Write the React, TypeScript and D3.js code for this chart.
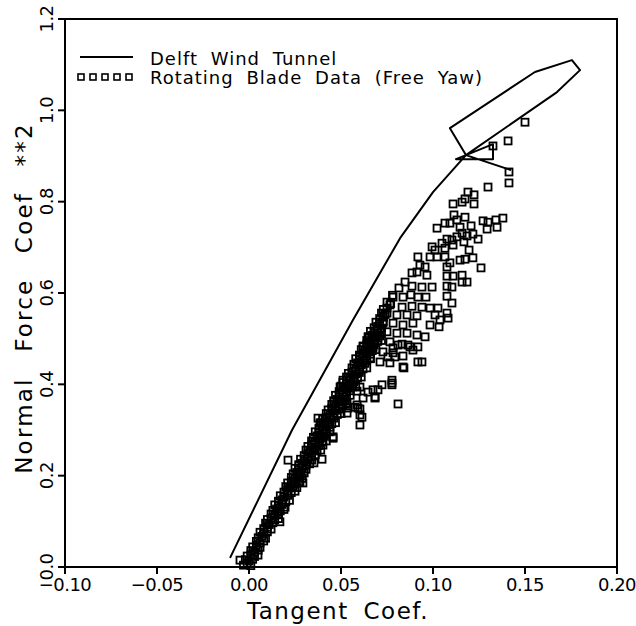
import React from "react";
import * as d3 from "d3";

const xTicks = [-0.1, -0.05, 0.0, 0.05, 0.1, 0.15, 0.2];
const xTickLabels = ["\u22120.10", "\u22120.05", "0.00", "0.05", "0.10", "0.15", "0.20"];
const yTicks = [0.0, 0.2, 0.4, 0.6, 0.8, 1.0, 1.2];
const yTickLabels = ["0.0", "0.2", "0.4", "0.6", "0.8", "1.0", "1.2"];

const xTitle = "Tangent Coef.";
const yTitle = "Normal Force Coef **2";
const legendLine = "Delft Wind Tunnel";
const legendPts = "Rotating Blade Data (Free Yaw)";

// Delft wind tunnel curve [tangent, normal^2]
const delft: [number, number][] = [
  [-0.0103, 0.020], [0.0234, 0.300], [0.0565, 0.541], [0.0821, 0.720], [0.1000, 0.821],
  [0.1179, 0.902], [0.1092, 0.961], [0.1554, 1.084], [0.1755, 1.110], [0.1799, 1.088],
  [0.1674, 1.040], [0.1179, 0.902], [0.1125, 0.893], [0.1326, 0.893], [0.1326, 0.926],
  [0.1179, 0.902], [0.1424, 0.869],
];

// Rotating blade data: dense core band
const bladeCore: [number, number][] = [
  [-0.003,0.004],[-0.001,0.007],[0.001,0.003],
  [-0.002,0.016],[0.000,0.013],[0.002,0.017],
  [-0.001,0.024],[0.001,0.027],[0.003,0.023],
  [0.001,0.036],[0.003,0.033],[0.005,0.037],
  [0.002,0.044],[0.004,0.047],[0.006,0.043],
  [0.004,0.056],[0.006,0.053],[0.008,0.057],
  [0.005,0.064],[0.007,0.067],[0.009,0.063],
  [0.006,0.076],[0.008,0.073],[0.010,0.077],
  [0.008,0.084],[0.010,0.087],[0.012,0.083],
  [0.009,0.096],[0.011,0.093],[0.013,0.097],
  [0.010,0.104],[0.012,0.107],[0.014,0.103],[0.016,0.106],
  [0.012,0.116],[0.014,0.113],[0.016,0.117],
  [0.013,0.124],[0.015,0.127],[0.017,0.123],[0.019,0.126],
  [0.014,0.136],[0.016,0.133],[0.018,0.137],
  [0.016,0.144],[0.018,0.147],[0.020,0.143],[0.022,0.146],
  [0.017,0.156],[0.019,0.153],[0.021,0.157],
  [0.019,0.164],[0.021,0.167],[0.023,0.163],[0.025,0.166],
  [0.020,0.176],[0.022,0.173],[0.024,0.177],[0.026,0.174],
  [0.021,0.184],[0.023,0.187],[0.025,0.183],[0.027,0.186],
  [0.023,0.196],[0.025,0.193],[0.027,0.197],[0.029,0.194],
  [0.024,0.204],[0.026,0.207],[0.028,0.203],[0.030,0.206],
  [0.025,0.216],[0.027,0.213],[0.029,0.217],[0.031,0.214],
  [0.027,0.224],[0.029,0.227],[0.031,0.223],[0.033,0.226],
  [0.028,0.236],[0.030,0.233],[0.032,0.237],[0.034,0.234],
  [0.030,0.244],[0.032,0.247],[0.034,0.243],[0.036,0.246],
  [0.031,0.256],[0.033,0.253],[0.035,0.257],[0.037,0.254],[0.039,0.256],
  [0.032,0.264],[0.034,0.267],[0.036,0.263],[0.038,0.266],
  [0.034,0.276],[0.036,0.273],[0.038,0.277],[0.040,0.274],[0.042,0.276],
  [0.035,0.284],[0.037,0.287],[0.039,0.283],[0.041,0.286],
  [0.036,0.296],[0.038,0.293],[0.040,0.297],[0.042,0.294],[0.044,0.296],
  [0.038,0.304],[0.040,0.307],[0.042,0.303],[0.044,0.306],
  [0.039,0.316],[0.041,0.313],[0.043,0.317],[0.045,0.314],[0.047,0.316],
  [0.040,0.324],[0.042,0.327],[0.044,0.323],[0.046,0.326],
  [0.042,0.336],[0.044,0.333],[0.046,0.337],[0.048,0.334],[0.050,0.336],
  [0.043,0.344],[0.045,0.347],[0.047,0.343],[0.049,0.346],
  [0.045,0.356],[0.047,0.353],[0.049,0.357],[0.051,0.354],[0.053,0.356],
  [0.046,0.364],[0.048,0.367],[0.050,0.363],[0.052,0.366],
  [0.047,0.376],[0.049,0.373],[0.051,0.377],[0.053,0.374],[0.055,0.376],
  [0.049,0.384],[0.051,0.387],[0.053,0.383],[0.055,0.386],
  [0.050,0.396],[0.052,0.393],[0.054,0.397],[0.056,0.394],[0.058,0.396],
  [0.051,0.404],[0.053,0.407],[0.055,0.403],[0.057,0.406],
  [0.053,0.416],[0.055,0.413],[0.057,0.417],[0.059,0.414],[0.061,0.416],
  [0.054,0.424],[0.056,0.427],[0.058,0.423],[0.060,0.426],
  [0.056,0.436],[0.058,0.433],[0.060,0.437],[0.062,0.434],[0.064,0.436],
  [0.057,0.444],[0.059,0.447],[0.061,0.443],[0.063,0.446],
  [0.058,0.456],[0.060,0.453],[0.062,0.457],[0.064,0.454],[0.066,0.456],
  [0.060,0.464],[0.062,0.467],[0.064,0.463],[0.066,0.466],
  [0.061,0.476],[0.063,0.473],[0.065,0.477],[0.067,0.474],[0.069,0.476],
  [0.062,0.484],[0.064,0.487],[0.066,0.483],[0.068,0.486],
  [0.064,0.496],[0.066,0.493],[0.068,0.497],[0.070,0.494],[0.072,0.496],
  [0.065,0.504],[0.067,0.507],[0.069,0.503],[0.071,0.506],
  [0.066,0.516],[0.068,0.513],[0.070,0.517],[0.072,0.514],
  [0.068,0.524],[0.070,0.527],[0.072,0.523],
  [0.069,0.536],[0.071,0.533],[0.073,0.537],
  [0.071,0.544],[0.073,0.547],
  [0.072,0.556],[0.074,0.553],
  [0.073,0.564],[0.075,0.567],
  [0.075,0.580],[0.077,0.577],
  [0.078,0.595],
];

// Rotating blade data: scattered upper fan and outliers
const bladeFan: [number, number][] = [
  [0.1413,0.865],[0.1413,0.841],[0.1299,0.832],[0.1190,0.821],[0.1223,0.815],
  [0.1174,0.806],[0.1223,0.795],[0.1158,0.799],[0.1109,0.795],[0.1114,0.771],
  [0.1174,0.766],[0.1130,0.760],[0.1065,0.753],[0.1092,0.753],[0.1022,0.742],
  [0.1147,0.744],[0.1207,0.747],[0.1272,0.758],[0.1299,0.755],[0.1342,0.760],
  [0.1380,0.764],[0.1294,0.740],[0.1348,0.744],[0.1158,0.731],[0.1185,0.725],
  [0.1217,0.729],[0.1245,0.718],[0.1168,0.712],[0.1130,0.723],[0.1103,0.716],
  [0.1076,0.718],[0.1049,0.709],[0.0995,0.701],[0.1011,0.694],[0.1065,0.698],
  [0.1109,0.705],[0.1196,0.694],[0.1147,0.672],[0.1174,0.674],[0.1217,0.677],
  [0.1261,0.655],[0.1092,0.666],[0.1076,0.657],[0.0918,0.679],[0.0984,0.679],
  [0.1022,0.679],[0.1065,0.679],[0.0929,0.661],[0.0957,0.657],[0.0913,0.646],
  [0.0967,0.639],[0.1076,0.637],[0.1109,0.637],[0.1158,0.639],[0.1158,0.624],
  [0.1185,0.624],[0.1076,0.615],[0.1103,0.613],[0.0886,0.644],[0.0848,0.624],
  [0.0995,0.613],[0.0886,0.615],[0.0940,0.613],[0.0815,0.611],[0.0783,0.591],
  [0.0837,0.591],[0.0880,0.596],[0.0918,0.591],[0.0962,0.591],[0.1076,0.593],
  [0.1103,0.578],[0.0766,0.574],[0.0832,0.569],[0.0886,0.571],[0.0940,0.569],
  [0.0984,0.567],[0.1027,0.567],[0.0750,0.556],[0.0804,0.552],[0.0859,0.552],
  [0.0913,0.550],[0.1011,0.552],[0.1076,0.556],[0.1082,0.545],[0.0728,0.534],
  [0.0783,0.534],[0.0837,0.530],[0.0891,0.534],[0.0984,0.530],[0.1038,0.541],
  [0.1033,0.526],[0.0696,0.519],[0.0750,0.515],[0.0804,0.512],[0.0859,0.512],
  [0.0913,0.508],[0.0957,0.504],[0.0647,0.504],[0.0701,0.501],[0.0766,0.493],
  [0.0832,0.488],[0.0875,0.482],[0.0918,0.482],[0.0620,0.482],[0.0674,0.480],
  [0.0728,0.471],[0.0783,0.469],[0.0837,0.462],[0.0940,0.449],[0.0603,0.460],
  [0.0658,0.458],[0.0712,0.449],[0.0766,0.447],[0.0837,0.438],
  [0.0810,0.357],[0.0918,0.449],[0.0777,0.409],[0.0723,0.399],[0.0777,0.399],
  [0.0674,0.388],[0.0701,0.388],[0.0647,0.383],[0.0685,0.370],[0.0620,0.370],
  [0.0587,0.385],[0.0603,0.394],[0.0603,0.346],[0.0587,0.355],[0.0614,0.328],
  [0.0603,0.311],[0.0538,0.348],[0.0533,0.359],[0.0457,0.285],[0.0402,0.300],
  [0.0375,0.326],[0.0386,0.315],[0.0891,0.475],[0.0864,0.486],[0.0810,0.486],
  [0.0783,0.480],[0.0793,0.460],[0.0755,0.460],[0.0511,0.409],[0.0549,0.416],
  [0.0495,0.394],
  [0.0212,0.234],[0.0397,0.236],[0.0353,0.228],[0.0168,0.099],[0.0293,0.184],
  [0.0196,0.131],[0.0049,0.026],[-0.0049,0.015],[0.0457,0.282],[0.0402,0.267],
  [0.0592,0.348],[0.0277,0.186],[0.0533,0.337],[0.0576,0.350],[0.0603,0.333],
  [0.0777,0.403],[0.0685,0.372],[0.0842,0.436],
  [0.1326,0.922],[0.1408,0.933],[0.1500,0.974],
];

const W = 636, H = 626;
const L = 65, R = 617, T = 19, B = 567;
const FONT = "'DejaVu Sans', sans-serif";

export default function App() {
  const x = d3.scaleLinear().domain([-0.1, 0.2]).range([L, R]);
  const y = d3.scaleLinear().domain([0, 1.2]).range([B, T]);
  const line = d3.line<[number, number]>().x(d => x(d[0])).y(d => y(d[1]));
  const pts = [...bladeCore, ...bladeFan];
  const S = 7;
  const legendSq = [0, 1, 2, 3, 4];
  return (
    <svg width={W} height={H} style={{ position: "absolute", left: 0, top: 0, background: "#fff" }}
      fontFamily={FONT}>
      <rect x={0} y={0} width={W} height={H} fill="#fff" />
      <g fill="none" stroke="#000" strokeWidth={1.8}>
        {pts.map((p, i) => (
          <rect key={i} x={x(p[0]) - S / 2} y={y(p[1]) - S / 2} width={S} height={S} />
        ))}
      </g>
      <path d={line(delft) || ""} fill="none" stroke="#000" strokeWidth={2} strokeLinejoin="round" />
      <rect x={L} y={T} width={R - L} height={B - T} fill="none" stroke="#000" strokeWidth={2} />
      {xTicks.map((t, i) => (
        <g key={"x" + i}>
          <line x1={x(t)} x2={x(t)} y1={B} y2={B + 7} stroke="#000" strokeWidth={2} />
          <text x={x(t)} y={591} textAnchor="middle" fontSize={18} letterSpacing={-0.5}>{xTickLabels[i]}</text>
        </g>
      ))}
      {yTicks.map((t, i) => (
        <g key={"y" + i}>
          <line x1={L - 7} x2={L} y1={y(t)} y2={y(t)} stroke="#000" strokeWidth={2} />
          <text transform={`translate(53,${y(t)}) rotate(-90)`} textAnchor="middle" fontSize={18} letterSpacing={-0.5}>{yTickLabels[i]}</text>
        </g>
      ))}
      <text x={338} y={619} textAnchor="middle" fontSize={23} letterSpacing={1.5} wordSpacing={6}>{xTitle}</text>
      <text transform={`translate(32,298) rotate(-90)`} textAnchor="middle" fontSize={23} letterSpacing={2.2} wordSpacing={16}>{yTitle}</text>
      <line x1={80} x2={133} y1={57} y2={57} stroke="#000" strokeWidth={2} />
      <text x={150} y={65} fontSize={18} letterSpacing={1} wordSpacing={6}>{legendLine}</text>
      <g fill="none" stroke="#000" strokeWidth={1.6}>
        {legendSq.map(i => (
          <rect key={i} x={78 + i * 12} y={74} width={6} height={6} />
        ))}
      </g>
      <text x={150} y={84} fontSize={18} letterSpacing={1} wordSpacing={6}>{legendPts}</text>
    </svg>
  );
}
